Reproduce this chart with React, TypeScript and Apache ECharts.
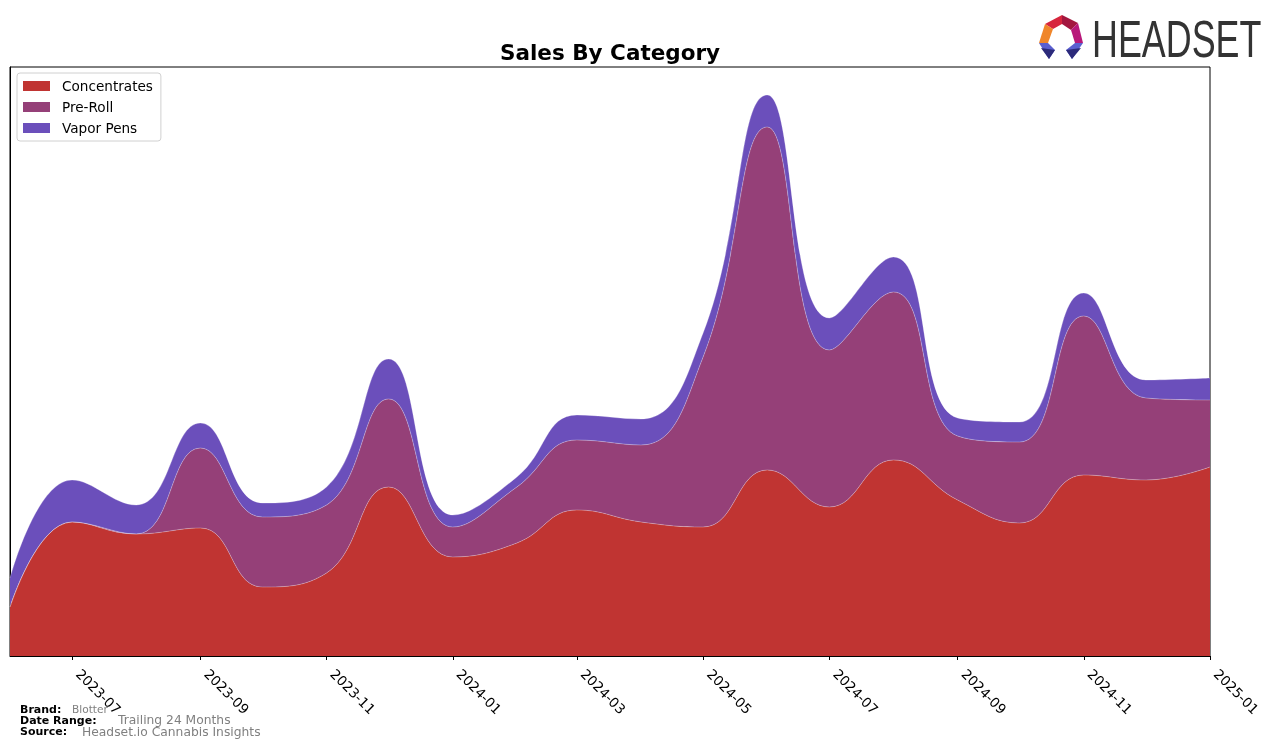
import React, { useEffect, useRef } from "react";
import * as echarts from "echarts";

const months = [
  "2023-06-01", "2023-07-01", "2023-08-01", "2023-09-01", "2023-10-01",
  "2023-11-01", "2023-12-01", "2024-01-01", "2024-02-01", "2024-03-01",
  "2024-04-01", "2024-05-01", "2024-06-01", "2024-07-01", "2024-08-01",
  "2024-09-01", "2024-10-01", "2024-11-01", "2024-12-01", "2025-01-01",
];
const concentrates = [49, 134, 122, 128, 69, 83, 169, 99, 113, 146, 134, 129, 186, 149, 196, 156, 133, 181, 176, 189];
const preRoll = [0, 0, 0, 80, 70, 68, 88, 30, 56, 70, 77, 170, 343, 157, 168, 64, 81, 159, 82, 67];
const vaporPens = [29, 42, 29, 25, 14, 18, 40, 12, 10, 25, 26, 24, 32, 32, 35, 18, 20, 23, 18, 22];
const tickMonths = [
  "2023-07-01", "2023-09-01", "2023-11-01", "2024-01-01", "2024-03-01",
  "2024-05-01", "2024-07-01", "2024-09-01", "2024-11-01", "2025-01-01",
];
const seriesNames = ["Concentrates", "Pre-Roll", "Vapor Pens"];
const seriesColors = ["#c03432", "#954078", "#6b4fbb"];

const ts = (d: string) => new Date(d + "T00:00:00Z").getTime();

export default function App() {
  const ref = useRef<HTMLDivElement>(null);
  useEffect(() => {
    if (!ref.current) return;
    const chart = echarts.init(ref.current, null, { renderer: "svg" });
    const values = [concentrates, preRoll, vaporPens];
    const font = "DejaVu Sans";
    const xMin = ts(months[0]);
    const xMax = ts(months[months.length - 1]);
    const series = seriesNames.map((name, i) => ({
      name,
      type: "line",
      stack: "total",
      smooth: 0.45,
      symbol: "none",
      xAxisIndex: 0,
      data: months.map((m, j) => [m, values[i][j]]),
      lineStyle: { width: 0.8, color: "rgba(255,255,255,0.35)" },
      itemStyle: { color: seriesColors[i] },
      areaStyle: { color: seriesColors[i], opacity: 1 },
      z: 2,
    }));
    const gray = "#808080";
    chart.setOption({
      animation: false,
      grid: {
        left: 10, right: 66, top: 67, bottom: 91,
        show: true, borderColor: "#000", borderWidth: 1, backgroundColor: "transparent",
      },
      legend: {
        left: 17, top: 73, orient: "vertical",
        data: seriesNames.map((n, i) => ({ name: n, itemStyle: { color: seriesColors[i] } })),
        icon: "rect", itemWidth: 27, itemHeight: 10, itemGap: 5,
        padding: [5, 8, 5, 6],
        borderColor: "#d0d0d0", borderWidth: 1, borderRadius: 3,
        backgroundColor: "#fff",
        textStyle: { fontFamily: font, fontSize: 13.6, color: "#000", lineHeight: 16, padding: [0, 0, 0, 7] },
      },
      xAxis: [
        {
          type: "time",
          min: xMin,
          max: xMax,
          axisLine: { show: false },
          axisTick: { show: false },
          axisLabel: { show: false },
          splitLine: { show: false },
        },
        {
          type: "value",
          min: xMin,
          max: xMax,
          position: "bottom",
          axisLine: { show: true, onZero: false, lineStyle: { color: "#000", width: 1 } },
          axisTick: { show: true, length: 4, lineStyle: { color: "#000" }, customValues: tickMonths.map(ts) },
          splitLine: { show: false },
          axisLabel: {
            customValues: tickMonths.map(ts),
            rotate: -45,
            fontFamily: font,
            fontSize: 13.6,
            color: "#000",
            margin: 9,
            padding: [0, 0, 0, 9],
            hideOverlap: false,
            formatter: (v: number) => {
              const d = new Date(v);
              return d.getUTCFullYear() + "-" + String(d.getUTCMonth() + 1).padStart(2, "0");
            },
          },
        },
      ],
      yAxis: {
        type: "value",
        min: 0,
        max: 589,
        axisLine: { show: true, lineStyle: { color: "#000" } },
        axisTick: { show: false },
        axisLabel: { show: false },
        splitLine: { show: false },
      },
      series,
      graphic: [
        {
          type: "text", x: 610, y: 52,
          style: { text: "Sales By Category", font: "bold 21.5px 'DejaVu Sans'", fill: "#000", textAlign: "center", textVerticalAlign: "middle" },
        },
        { type: "text", x: 20, y: 709, style: { text: "Brand:", font: "bold 11px 'DejaVu Sans'", fill: "#000", textVerticalAlign: "middle" } },
        { type: "text", x: 72, y: 709, style: { text: "Blotter", font: "10.6px 'DejaVu Sans'", fill: gray, textVerticalAlign: "middle" } },
        { type: "text", x: 20, y: 720, style: { text: "Date Range:", font: "bold 11px 'DejaVu Sans'", fill: "#000", textVerticalAlign: "middle" } },
        { type: "text", x: 118, y: 719.5, style: { text: "Trailing 24 Months", font: "12.3px 'DejaVu Sans'", fill: gray, textVerticalAlign: "middle" } },
        { type: "text", x: 20, y: 731, style: { text: "Source:", font: "bold 11px 'DejaVu Sans'", fill: "#000", textVerticalAlign: "middle" } },
        { type: "text", x: 82, y: 731.5, style: { text: "Headset.io Cannabis Insights", font: "12.3px 'DejaVu Sans'", fill: gray, textVerticalAlign: "middle" } },
        { type: "polygon", shape: { points: [[1045, 24], [1062, 15], [1062, 24], [1053, 29]] }, style: { fill: "#d7263d" } },
        { type: "polygon", shape: { points: [[1062, 15], [1078, 23], [1071, 30], [1062, 24]] }, style: { fill: "#a3173f" } },
        { type: "polygon", shape: { points: [[1078, 23], [1083, 43], [1075, 43], [1071, 30]] }, style: { fill: "#b8187a" } },
        { type: "polygon", shape: { points: [[1045, 24], [1053, 29], [1048, 43], [1039, 43]] }, style: { fill: "#f0862a" } },
        { type: "polygon", shape: { points: [[1039, 43], [1048, 43], [1055, 50], [1049, 59]] }, style: { fill: "#5a5fd0" } },
        { type: "polygon", shape: { points: [[1041, 48], [1055, 50], [1049, 59]] }, style: { fill: "#2c2a7a" } },
        { type: "polygon", shape: { points: [[1075, 43], [1083, 43], [1072, 59], [1066, 50]] }, style: { fill: "#5a5fd0" } },
        { type: "polygon", shape: { points: [[1081, 48], [1072, 59], [1066, 50]] }, style: { fill: "#2c2a7a" } },
        {
          type: "text", x: 1092, y: 39, scaleX: 0.69,
          style: { text: "HEADSET", font: "52px 'Liberation Sans'", fill: "#333333", textVerticalAlign: "middle" },
        },
      ],
    });
    return () => chart.dispose();
  }, []);
  return <div ref={ref} style={{ position: "fixed", left: 0, top: 0, width: 1276, height: 747 }} />;
}
